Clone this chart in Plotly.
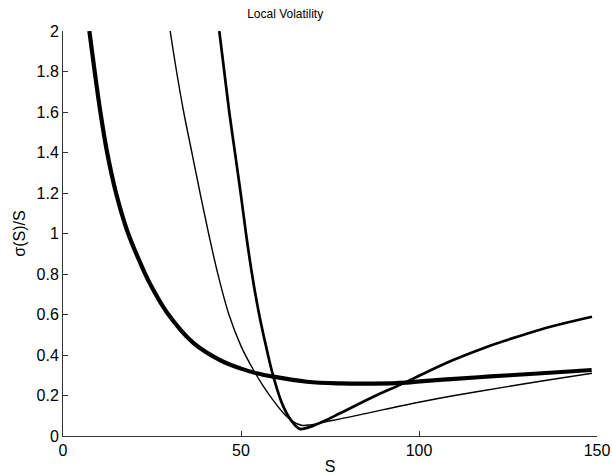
import plotly.graph_objects as go

# Local volatility sigma(S)/S for three calibrations
s_thick = [7.4, 8.9, 10.5, 12.4, 14.9, 18.1, 21.7, 24.5, 29.2, 36.6, 44.1, 49.8, 54.4,
           59.1, 68.5, 77.8, 87.2, 96.5, 100.3, 110, 120, 130, 140, 148.5]
v_thick = [2.0, 1.8, 1.6, 1.4, 1.2, 1.01, 0.855, 0.75, 0.61, 0.46, 0.375, 0.334, 0.31,
           0.293, 0.268, 0.26, 0.259, 0.264, 0.27, 0.282, 0.294, 0.305, 0.316, 0.326]

s_thin = [30.1, 31.9, 33.9, 36.2, 38.5, 40.9, 43.5, 46.6, 50.1, 53.5, 56.3, 59.1, 61.9,
          64.5, 67.0, 69.5, 73.1, 80, 90, 100.3, 110, 123.6, 135, 148.6]
v_thin = [2.0, 1.8, 1.6, 1.4, 1.2, 1.0, 0.8, 0.6, 0.44, 0.326, 0.245, 0.175, 0.114,
          0.072, 0.053, 0.055, 0.068, 0.092, 0.13, 0.168, 0.2, 0.24, 0.273, 0.31]

s_mid = [43.9, 45.3, 46.7, 48.3, 49.9, 51.4, 53.0, 54.5, 55.5, 57.2, 59.1, 61.9, 64.7,
         66.6, 69.4, 73.5, 77.8, 87.2, 95.6, 100.3, 109.6, 119, 128.3, 137.7, 148.6]
v_mid = [2.0, 1.8, 1.6, 1.4, 1.2, 1.0, 0.81, 0.655, 0.565, 0.43, 0.293, 0.145, 0.063,
         0.035, 0.045, 0.075, 0.112, 0.194, 0.26, 0.30, 0.375, 0.44, 0.494, 0.543, 0.589]

x_ticks = [0, 50, 100, 150]
y_ticks = [0, 0.2, 0.4, 0.6, 0.8, 1, 1.2, 1.4, 1.6, 1.8, 2]
y_tick_text = ["0", "0.2", "0.4", "0.6", "0.8", "1", "1.2", "1.4", "1.6", "1.8", "2"]

FONT = "Liberation Sans, Arial, sans-serif"

fig = go.Figure()
for s, v, w in [(s_thick, v_thick, 4.2), (s_thin, v_thin, 1.4), (s_mid, v_mid, 2.7)]:
    fig.add_trace(go.Scatter(x=s, y=v, mode="lines",
                             line=dict(color="black", width=w, shape="spline", smoothing=1.0),
                             showlegend=False, hoverinfo="skip"))

axis_common = dict(showgrid=False, zeroline=False, showline=True, linecolor="#333",
                   linewidth=1, ticks="inside", ticklen=5, tickcolor="#333",
                   automargin=False,
                   tickfont=dict(family=FONT, size=16, color="black"))

fig.update_layout(
    width=612, height=475,
    margin=dict(l=63, r=15, t=31, b=39, autoexpand=False),
    paper_bgcolor="white", plot_bgcolor="white",
    font=dict(family=FONT, color="black"),
    title=dict(text="Local Volatility", x=0.466, xanchor="center",
               y=1 - 14 / 475, yanchor="middle", yref="container",
               font=dict(family=FONT, size=12, color="black")),
    xaxis=dict(range=[0, 150], tickvals=x_ticks, ticktext=[str(t) for t in x_ticks],
               title=dict(text="S", font=dict(family=FONT, size=16), standoff=2),
               **axis_common),
    yaxis=dict(range=[0, 2], tickvals=y_ticks, ticktext=y_tick_text,
               title=dict(text="σ(S)/S", font=dict(family=FONT, size=16), standoff=6),
               **axis_common),
)

fig.write_html("out.html")
